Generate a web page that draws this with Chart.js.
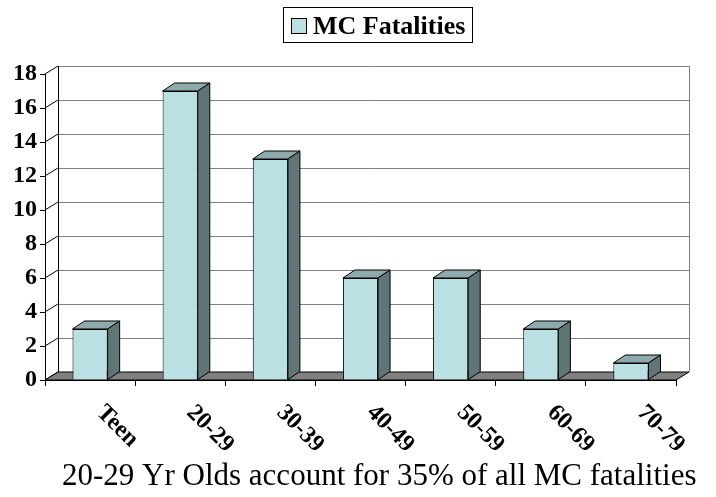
<!DOCTYPE html>
<html>
<head>
<meta charset="utf-8">
<script src="https://cdn.jsdelivr.net/npm/chart.js@4.4.0/dist/chart.umd.min.js"></script>
<style>
    body { margin: 0; background: #fff; }
    #chartBox { width: 716px; height: 497px; }
</style>
</head>
<body>
<div id="chartBox"><canvas id="mcChart" width="716" height="497"></canvas></div>
<script>
// data
const ageGroups = ['Teen', '20-29', '30-39', '40-49', '50-59', '60-69', '70-79'];
const fatalities = [3, 17, 13, 6, 6, 3, 1];
const yTicks = [0, 2, 4, 6, 8, 10, 12, 14, 16, 18];
const seriesName = 'MC Fatalities';
const caption = '20-29 Yr Olds account for 35% of all MC fatalities';

const serif = "'Liberation Serif', 'Times New Roman', Times, serif";
const frontColor = '#BBE0E3';
const topColor = '#8FAAAC';
const sideColor = '#5F7576';
const floorColor = '#808080';

// depth of the wall and of the bars
const wallDX = 13, wallDY = -8;
const barDX = 12, barDY = -8;

const threeD = {
    id: 'threeD',
    beforeDatasetsDraw(chart) {
        const ctx = chart.ctx;
        const area = chart.chartArea;
        const y = chart.scales.y;
        const y0 = y.getPixelForValue(0);
        const yTop = y.getPixelForValue(yTicks[yTicks.length - 1]);
        ctx.save();
        ctx.lineWidth = 1;

        // back wall grid
        ctx.strokeStyle = '#808080';
        yTicks.forEach(v => {
            if (v === 0) return;
            const py = Math.round(y.getPixelForValue(v) + wallDY) + 0.5;
            ctx.beginPath();
            ctx.moveTo(area.left + wallDX, py);
            ctx.lineTo(area.right + wallDX, py);
            ctx.stroke();
        });
        // right edge of back wall
        ctx.beginPath();
        ctx.moveTo(area.right + wallDX + 0.5, yTop + wallDY);
        ctx.lineTo(area.right + wallDX + 0.5, y0 + wallDY);
        ctx.stroke();

        // left edge of back wall + diagonal ticks
        ctx.strokeStyle = '#000';
        ctx.beginPath();
        ctx.moveTo(area.left + wallDX + 0.5, yTop + wallDY);
        ctx.lineTo(area.left + wallDX + 0.5, y0 + wallDY);
        ctx.stroke();
        yTicks.forEach(v => {
            const py = y.getPixelForValue(v);
            ctx.beginPath();
            ctx.moveTo(area.left, py);
            ctx.lineTo(area.left + wallDX, py + wallDY);
            ctx.stroke();
        });

        // floor
        ctx.fillStyle = floorColor;
        ctx.beginPath();
        ctx.moveTo(area.left, y0);
        ctx.lineTo(area.right, y0);
        ctx.lineTo(area.right + wallDX, y0 + wallDY);
        ctx.lineTo(area.left + wallDX, y0 + wallDY);
        ctx.closePath();
        ctx.fill();
        ctx.stroke();
        ctx.restore();
    },
    afterDatasetsDraw(chart) {
        const ctx = chart.ctx;
        const meta = chart.getDatasetMeta(0);
        ctx.save();
        ctx.lineWidth = 1;
        ctx.strokeStyle = '#000';
        meta.data.forEach(bar => {
            const p = bar.getProps(['x', 'y', 'base', 'width'], true);
            const l = p.x - p.width / 2, r = p.x + p.width / 2;
            // top face
            ctx.fillStyle = topColor;
            ctx.beginPath();
            ctx.moveTo(l, p.y);
            ctx.lineTo(l + barDX, p.y + barDY);
            ctx.lineTo(r + barDX, p.y + barDY);
            ctx.lineTo(r, p.y);
            ctx.closePath();
            ctx.fill();
            ctx.stroke();
            // side face
            ctx.fillStyle = sideColor;
            ctx.beginPath();
            ctx.moveTo(r, p.y);
            ctx.lineTo(r + barDX, p.y + barDY);
            ctx.lineTo(r + barDX, p.base + barDY);
            ctx.lineTo(r, p.base);
            ctx.closePath();
            ctx.fill();
            ctx.stroke();
        });
        ctx.restore();
    },
    afterDraw(chart) {
        const ctx = chart.ctx;
        const x = chart.scales.x;
        ctx.save();
        ctx.fillStyle = '#000';

        // slanted category labels
        ctx.font = 'bold 24px ' + serif;
        ctx.textAlign = 'left';
        ctx.textBaseline = 'middle';
        ageGroups.forEach((lab, i) => {
            ctx.save();
            ctx.translate(x.getPixelForValue(i) + 10, 409);
            ctx.rotate(Math.PI / 4);
            ctx.fillText(lab, 0, 0);
            ctx.restore();
        });

        // legend with frame
        ctx.lineWidth = 1;
        ctx.strokeStyle = '#000';
        ctx.strokeRect(283.5, 7.5, 189, 35);
        ctx.fillStyle = frontColor;
        ctx.fillRect(291.5, 18.5, 15, 15);
        ctx.strokeRect(291.5, 18.5, 15, 15);
        ctx.fillStyle = '#000';
        ctx.font = 'bold 26px ' + serif;
        ctx.textBaseline = 'alphabetic';
        ctx.fillText(chart.data.datasets[0].label, 313, 34);

        // caption
        ctx.font = '31px ' + serif;
        ctx.fillText(caption, 62, 485);
        ctx.restore();
    }
};

function drawChart() {
    new Chart(document.getElementById('mcChart'), {
        type: 'bar',
        data: {
            labels: ageGroups,
            datasets: [{
                label: seriesName,
                data: fatalities,
                backgroundColor: frontColor,
                borderColor: '#000',
                borderWidth: 1,
                barPercentage: 0.39,
                categoryPercentage: 1.0
            }]
        },
        options: {
            responsive: false,
            animation: false,
            layout: { padding: { top: 74, right: 40, left: 0, bottom: 0 } },
            plugins: {
                legend: { display: false },
                title: { display: false },
                tooltip: { enabled: false }
            },
            scales: {
                x: {
                    afterFit: s => { s.height = 117; },
                    ticks: { display: false },
                    grid: { drawOnChartArea: false, tickLength: 6, color: '#000', offset: true },
                    border: { color: '#000', width: 1 }
                },
                y: {
                    min: 0,
                    max: 18,
                    afterFit: s => { s.width = 45; },
                    ticks: {
                        stepSize: 2,
                        color: '#000',
                        padding: 3,
                        font: { family: serif, size: 24, weight: 'bold' }
                    },
                    grid: { drawOnChartArea: false, tickLength: 5, color: '#000' },
                    border: { color: '#000', width: 1 }
                }
            }
        },
        plugins: [threeD]
    });
}

Promise.all([
    document.fonts.load('bold 24px "Liberation Serif"'),
    document.fonts.load('31px "Liberation Serif"')
]).then(drawChart, drawChart);
</script>
</body>
</html>
